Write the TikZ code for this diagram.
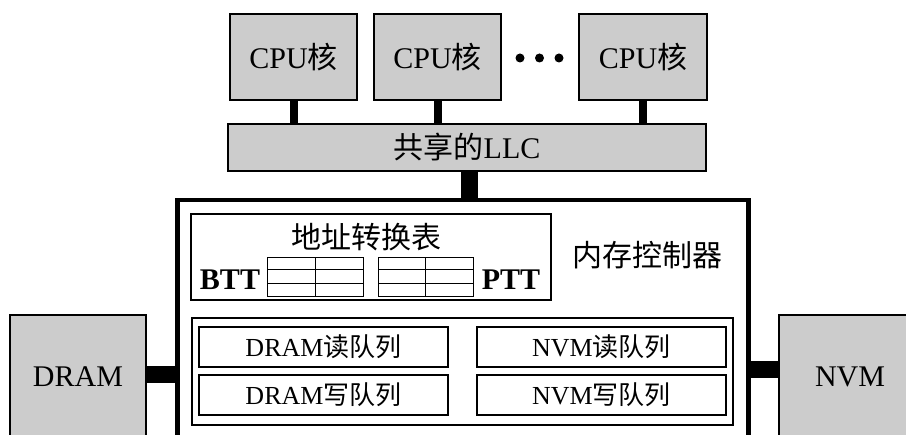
\documentclass[tikz,border=0pt]{standalone}
\usepackage{fontspec}
\setmainfont{Liberation Serif}
\newfontfamily\cjk{Noto Sans CJK SC}
\newcommand{\zh}[1]{{\cjk #1}}
\definecolor{boxgray}{HTML}{CCCCCC}
\begin{document}
\begin{tikzpicture}[x=1pt,y=-1pt,
  graybox/.style={draw=black, line width=1.6pt, fill=boxgray, inner sep=0pt, font=\fontsize{30}{36}\selectfont},
  whitebox/.style={draw=black, line width=1.8pt, fill=white, inner sep=0pt},
  queuebox/.style={whitebox, minimum width=249pt, minimum height=40pt, font=\fontsize{26}{31}\selectfont},
  barline/.style={draw=black, line width=#1},
  bigtext/.style={inner sep=0pt, font=\fontsize{30}{36}\selectfont},
  tabline/.style={draw=black, line width=1pt}
  ]
\clip (0,0) rectangle (906,435);
% CPU cores
\node[graybox, minimum width=127pt, minimum height=86pt] (cpu1) at (293.5,57) {CPU\zh{核}};
\node[graybox, minimum width=127pt, minimum height=86pt] (cpu2) at (437.5,57) {CPU\zh{核}};
\node[graybox, minimum width=128pt, minimum height=86pt] (cpu3) at (643,57) {CPU\zh{核}};
\fill (520,58) circle[radius=4.5pt];
\fill (539.5,58) circle[radius=4.5pt];
\fill (559,58) circle[radius=4.5pt];
% LLC
\node[graybox, minimum width=478pt, minimum height=47pt] (llc) at (467,147.5) {\zh{共享的}LLC};
% memory controller
\node[draw=black, line width=4.6pt, fill=white, minimum width=571pt, minimum height=250pt, inner sep=0pt] (mc) at (463,325) {};
\node[bigtext] (mclabel) at (647,255) {\zh{内存控制器}};
% address translation table
\node[whitebox, minimum width=360pt, minimum height=86pt] (att) at (371,257) {};
\node[bigtext] (atttitle) at (366,237) {\zh{地址转换表}};
\node[bigtext, font=\fontsize{30}{36}\selectfont\bfseries] (btt) at (230,280) {BTT};
\node[bigtext, font=\fontsize{30}{36}\selectfont\bfseries] (ptt) at (511,280) {PTT};
\draw[tabline] (267,258) rectangle (363,297);
\draw[tabline] (267,270) -- (363,270) (267,283.5) -- (363,283.5) (315.5,258) -- (315.5,297);
\draw[tabline] (378,258) rectangle (473.5,297);
\draw[tabline] (378,270) -- (473.5,270) (378,283.5) -- (473.5,283.5) (425.8,258) -- (425.8,297);
% queues
\node[whitebox, minimum width=541pt, minimum height=107pt] (queues) at (462.5,371.5) {};
\node[queuebox] (drr) at (323.5,347) {DRAM\zh{读队列}};
\node[queuebox] (drw) at (323.5,395) {DRAM\zh{写队列}};
\node[queuebox] (nvr) at (601.5,347) {NVM\zh{读队列}};
\node[queuebox] (nvw) at (601.5,395) {NVM\zh{写队列}};
% memories
\node[graybox, minimum width=136pt, minimum height=124pt] (dram) at (78,377) {DRAM};
\node[graybox, minimum width=142pt, minimum height=124pt] (nvm) at (850,377) {NVM};
% connectors
\draw[barline=8pt] (cpu1.south) -- (cpu1.south |- llc.north);
\draw[barline=8pt] (cpu2.south) -- (cpu2.south |- llc.north);
\draw[barline=8pt] (cpu3.south) -- (cpu3.south |- llc.north);
\coordinate (midbar) at (469.5,185);
\draw[barline=17pt] (midbar |- llc.south) -- (midbar |- mc.north);
\coordinate (lbar) at (160,374.5);
\coordinate (rbar) at (765,370);
\draw[barline=17pt] (dram.east |- lbar) -- (mc.west |- lbar);
\draw[barline=17pt] (mc.east |- rbar) -- (nvm.west |- rbar);
\end{tikzpicture}
\end{document}
